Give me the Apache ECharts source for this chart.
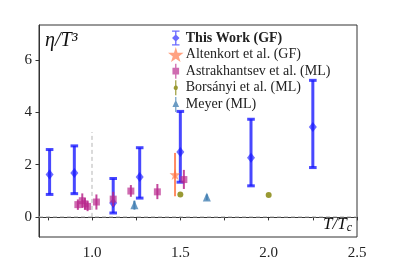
<!DOCTYPE html>
<html><head><meta charset="utf-8">
<script src="https://cdn.jsdelivr.net/npm/echarts@6/dist/echarts.min.js"></script>
<style>html,body{margin:0;padding:0;background:#fff}#c{width:397px;height:264px}</style>
</head><body><div id="c"></div>
<script>
// ---- data ----
const xTickValues = [0.75, 1.0, 1.25, 1.5, 1.75, 2.0, 2.25, 2.5];
const xLabelValues = [1.0, 1.5, 2.0, 2.5];
const yTickValues = [0, 2, 4, 6];

const workX  = [0.76, 0.9, 1.12, 1.27, 1.5, 1.9, 2.25];
const workY  = [1.62, 1.68, 0.53, 1.53, 2.49, 2.27, 3.44];
const workLo = [0.86, 0.89, 0.15, 0.72, 1.33, 1.19, 1.89];
const workHi = [2.58, 2.72, 1.47, 2.65, 4.04, 3.74, 5.23];

const altX  = [1.47];
const altY  = [1.62];
const altLo = [0.79];
const altHi = [2.45];

const astX  = [0.92, 0.945, 0.96, 0.975, 1.025, 1.12, 1.22, 1.37, 1.52];
const astY  = [0.47, 0.62, 0.5, 0.4, 0.57, 0.68, 0.99, 0.96, 1.43];
const astLo = [0.27, 0.34, 0.28, 0.22, 0.28, 0.4, 0.77, 0.68, 1.07];
const astHi = [0.67, 0.9, 0.72, 0.6, 0.86, 0.96, 1.22, 1.26, 1.8];

const borX  = [1.5, 2.0];
const borY  = [0.86, 0.84];

const meyX  = [1.24, 1.65];
const meyY  = [0.47, 0.76];
const meyLo = [0.28, 0.64];
const meyHi = [0.62, 0.86];

const names = ['This Work (GF)', 'Altenkort et al. (GF)', 'Astrakhantsev et al. (ML)', 'Borsányi et al. (ML)', 'Meyer (ML)'];

// ---- styles ----
const cBlue = 'rgba(20,20,255,0.78)';
const cOrange = 'rgba(255,110,60,0.8)';
const cMag = 'rgba(185,40,140,0.85)';
const cOlive = '#808000';
const cMeyer = '#4682b4';
const serif = '"Liberation Serif", "DejaVu Serif", serif';

function pts(xs, ys) { return xs.map((x, i) => [x, ys[i]]); }
function errs(xs, lo, hi) { return xs.map((x, i) => [x, lo[i], hi[i]]); }

function errSeries(data, color, width, cap, z) {
  return {
    type: 'custom', data: data, z: z, silent: true,
    encode: { x: 0, y: [1, 2] },
    renderItem: function (params, api) {
      const x = api.value(0), lo = api.value(1), hi = api.value(2);
      const p1 = api.coord([x, hi]), p2 = api.coord([x, lo]);
      const ch = [{ type: 'line', shape: { x1: p1[0], y1: p1[1], x2: p2[0], y2: p2[1] }, style: { stroke: color, lineWidth: width } }];
      if (cap) {
        ch.push({ type: 'line', shape: { x1: p1[0] - cap, y1: p1[1], x2: p1[0] + cap, y2: p1[1] }, style: { stroke: color, lineWidth: width } });
        ch.push({ type: 'line', shape: { x1: p2[0] - cap, y1: p2[1], x2: p2[0] + cap, y2: p2[1] }, style: { stroke: color, lineWidth: width } });
      }
      return { type: 'group', children: ch };
    }
  };
}

const starPath = 'path://M10,0 L12.35,6.9 L19.5,6.9 L13.8,11.2 L15.9,18.1 L10,13.9 L4.1,18.1 L6.2,11.2 L0.5,6.9 L7.65,6.9 Z';
const iconWork = 'path://M3,0 L13,0 L13,1.6 L8.9,1.6 L8.9,6 L13,10 L8.9,14 L8.9,18.4 L13,18.4 L13,20 L3,20 L3,18.4 L7.1,18.4 L7.1,14 L3,10 L7.1,6 L7.1,1.6 L3,1.6 Z';
const iconAlt = 'path://M8,0 L9.6,5.1 L15,5.1 L10.7,8.4 L12.3,13.5 L8,10.4 L3.7,13.5 L5.3,8.4 L1,5.1 L6.4,5.1 Z';
const iconAst = 'path://M7.2,0 L8.8,0 L8.8,5 L12,5 L12,13 L8.8,13 L8.8,18 L7.2,18 L7.2,13 L4,13 L4,5 L7.2,5 Z';
const iconBor = 'path://M7.3,0 L8.7,0 L8.7,6.3 A3,3 0 0 1 8.7,11.7 L8.7,18 L7.3,18 L7.3,11.7 A3,3 0 0 1 7.3,6.3 Z';
const iconMey = 'path://M7.3,0 L8.7,0 L8.7,5 L12,12 L8.7,12 L8.7,18 L7.3,18 L7.3,12 L4,12 L7.3,5 Z';

const chart = echarts.init(document.getElementById('c'), null, { renderer: 'canvas' });
chart.setOption({
  animation: false,
  backgroundColor: '#fff',
  grid: { left: 39, right: 40, top: 25, bottom: 27, show: true, borderColor: '#333', borderWidth: 1, containLabel: false },
  xAxis: {
    type: 'value', min: 0.7, max: 2.5,
    axisLine: { show: true, lineStyle: { color: '#333' } },
    splitLine: { show: false },
    axisTick: { show: true, length: 3.5, customValues: xTickValues, lineStyle: { color: '#333' } },
    axisLabel: { customValues: xLabelValues, formatter: v => v.toFixed(1), color: '#222', fontFamily: serif, fontSize: 15, margin: 9 }
  },
  yAxis: {
    type: 'value', min: -0.77, max: 7.35,
    axisLine: { show: true, lineStyle: { color: '#333' } },
    splitLine: { show: false },
    axisTick: { show: true, length: 3.5, customValues: yTickValues, lineStyle: { color: '#333' } },
    axisLabel: { customValues: yTickValues, color: '#222', fontFamily: serif, fontSize: 15, margin: 7 }
  },
  legend: {
    orient: 'vertical', left: 163, top: 25, itemGap: 0.6, itemWidth: 16, itemHeight: 15,
    textStyle: { fontFamily: serif, fontSize: 14, lineHeight: 16, color: '#222', padding: [0, 0, 0, -3],
      rich: { b: { fontFamily: serif, fontSize: 14, lineHeight: 16, fontWeight: 'bold', color: '#222' } } },
    formatter: n => n === names[0] ? '{b|' + n + '}' : n,
    data: [
      { name: names[0], icon: iconWork, itemStyle: { color: cBlue } },
      { name: names[1], icon: iconAlt, itemStyle: { color: cOrange } },
      { name: names[2], icon: iconAst, itemStyle: { color: cMag } },
      { name: names[3], icon: iconBor, itemStyle: { color: cOlive } },
      { name: names[4], icon: iconMey, itemStyle: { color: cMeyer } }
    ]
  },
  graphic: [
    { type: 'text', left: 45, top: 31, style: { text: 'η/T³', font: 'italic 20px ' + serif, fill: '#111' } },
    { type: 'text', right: 45, top: 216, style: { text: '{t|T/T}{s|c}', rich: { t: { font: 'italic 17px ' + serif, fill: '#111' }, s: { font: 'italic 12px ' + serif, fill: '#111', padding: [7, 0, 0, 0] } } } }
  ],
  series: [
    { type: 'line', data: [[0.7, 0], [2.5, 0]], symbol: 'none', silent: true, z: 1, lineStyle: { color: '#b5b5b5', width: 1, type: [4, 3] } },
    { type: 'line', data: [[1.0, 0], [1.0, 3.25]], symbol: 'none', silent: true, z: 1, lineStyle: { color: '#b5b5b5', width: 1, type: [4, 3] } },
    errSeries(errs(workX, workLo, workHi), cBlue, 3, 3.8, 2),
    { name: names[0], type: 'scatter', data: pts(workX, workY), symbol: 'diamond', symbolSize: [8, 10], z: 3, itemStyle: { color: cBlue } },
    errSeries(errs(altX, altLo, altHi), cOrange, 2, 0, 4),
    { name: names[1], type: 'scatter', data: pts(altX, altY), symbol: starPath, symbolSize: 11, z: 5, itemStyle: { color: cOrange } },
    errSeries(errs(astX, astLo, astHi), cMag, 2, 0, 4),
    { name: names[2], type: 'scatter', data: pts(astX, astY), symbol: 'rect', symbolSize: 7, z: 5, itemStyle: { color: cMag } },
    { name: names[3], type: 'scatter', data: pts(borX, borY), symbol: 'circle', symbolSize: 6, z: 5, itemStyle: { color: cOlive } },
    errSeries(errs(meyX, meyLo, meyHi), cMeyer, 2, 0, 4),
    { name: names[4], type: 'scatter', data: pts(meyX, meyY), symbol: 'triangle', symbolSize: [8, 9], z: 5, itemStyle: { color: cMeyer } }
  ]
});
</script></body></html>
